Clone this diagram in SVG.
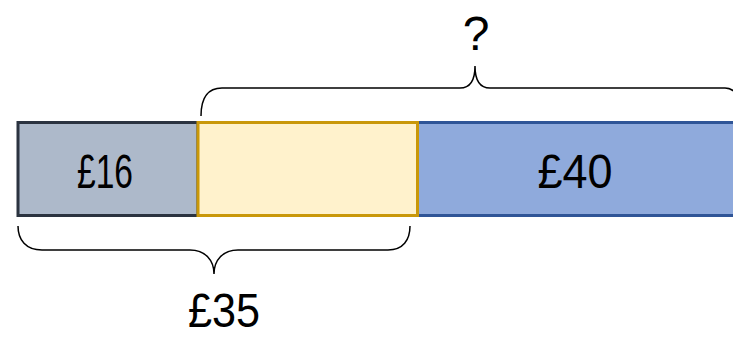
<svg xmlns="http://www.w3.org/2000/svg" width="733" height="338" viewBox="0 0 733 338">
<style>
.lbl{font-family:"Liberation Sans",Arial,sans-serif;font-size:48px;fill:#000;text-anchor:middle}
.brace{fill:none;stroke:#000;stroke-width:1.5}
</style>
<rect width="733" height="338" fill="#fff"/>
<g id="bar-blue">
<rect x="417.5" y="122.5" width="320" height="93" fill="#8faadc" stroke="#2f5597" stroke-width="3"/>
<text class="lbl" x="575" y="188" textLength="75" lengthAdjust="spacingAndGlyphs">£40</text>
</g>
<g id="bar-grey">
<rect x="18" y="122.5" width="180" height="93" fill="#adb9ca" stroke="#2b3340" stroke-width="3"/>
<text class="lbl" x="105" y="188" textLength="56" lengthAdjust="spacingAndGlyphs">£16</text>
</g>
<g id="bar-yellow">
<rect x="198" y="122.5" width="219.5" height="93" fill="#fff2cc" stroke="#c9980a" stroke-width="3"/>
</g>
<g id="connectors">
<path class="brace" d="M201,116 C201,98 207,88 222,88 L460,88 C470,88 475,80 475,66 C475,80 480,88 490,88 L725,88 C730,88 733,90 736,93"/>
<path class="brace" d="M18,226 C18,240 26,250 42,250 L190,250 C205,250 214,260 214,274 C214,260 223,250 238,250 L388,250 C403,250 410,240 410,226"/>
</g>
<g id="label-q">
<text class="lbl" x="476" y="50" font-size="46">?</text>
</g>
<g id="label-35">
<text class="lbl" x="224" y="327" font-size="46" textLength="72" lengthAdjust="spacingAndGlyphs">£35</text>
</g>
</svg>
